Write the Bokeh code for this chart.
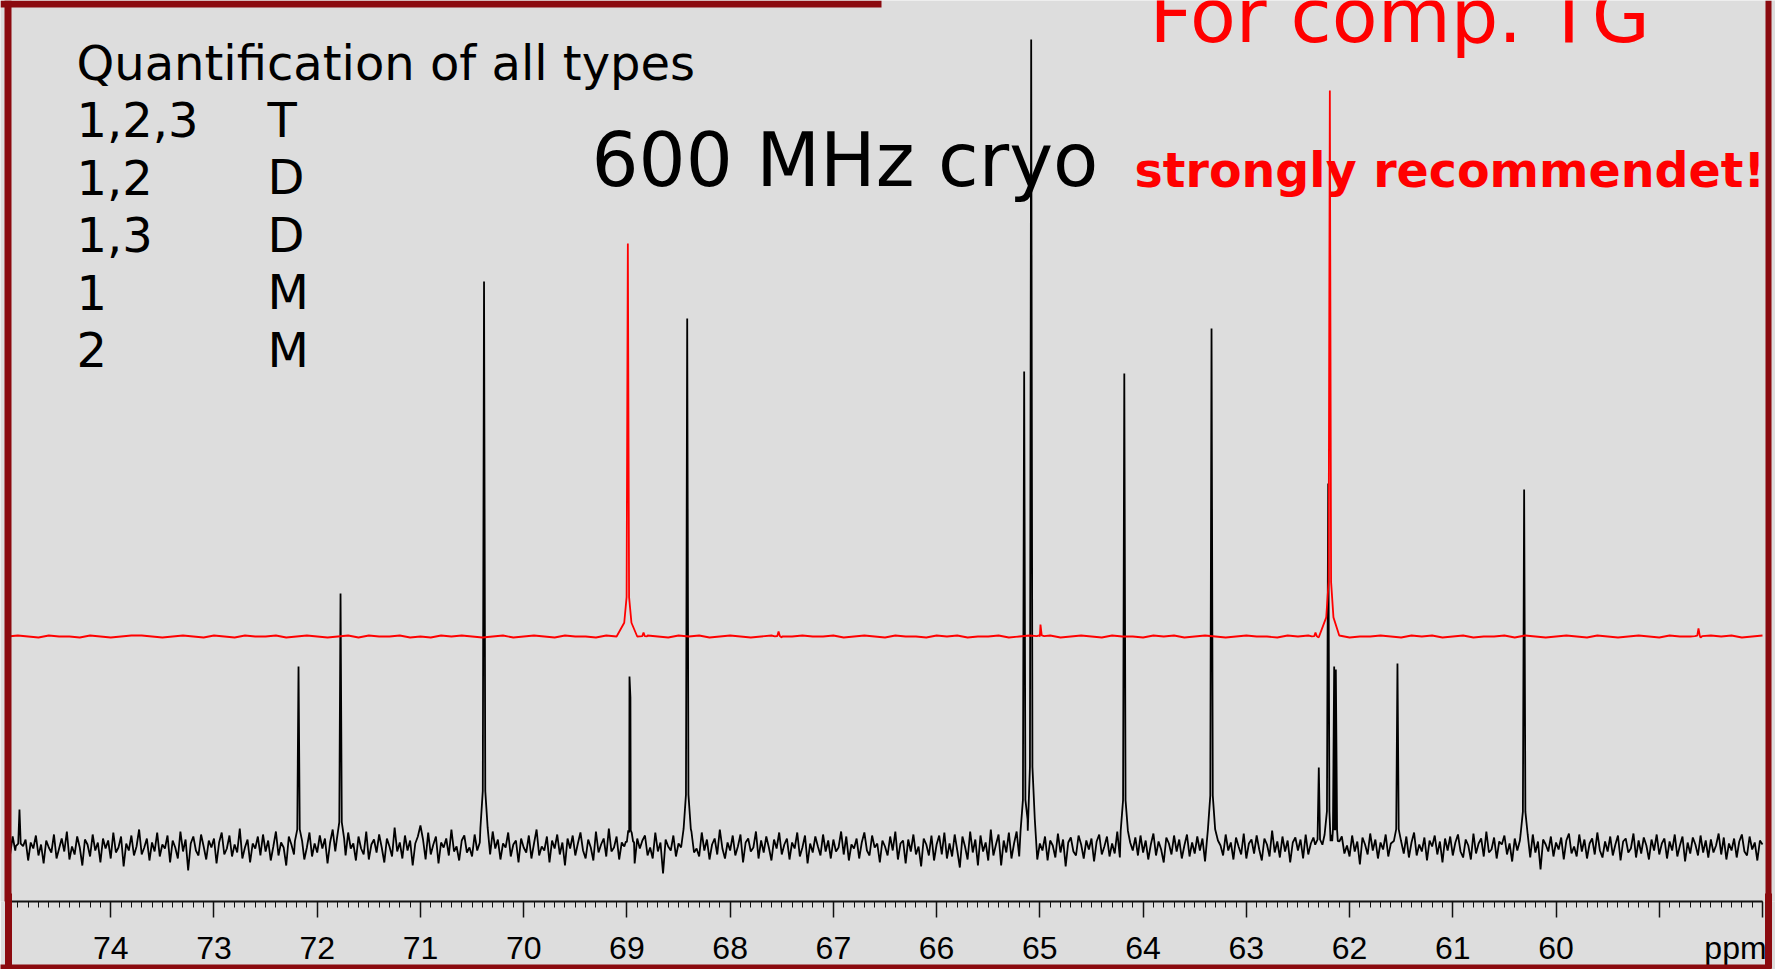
from bokeh.plotting import figure
from bokeh.models import Range1d, FixedTicker, LinearAxis, Label, BoxAnnotation
from bokeh.embed import file_html
from bokeh.resources import INLINE

# ---------------------------------------------------------------------------
# 13C NMR, glycerol carbon region (ppm).  Intensities in display units,
# baseline of the lower (black) spectrum = 0.
# ---------------------------------------------------------------------------
black_peak_ppm = [74.884, 72.181, 71.774, 70.384, 68.975, 68.966, 68.416, 65.152,
                  65.084, 64.182, 63.337, 62.298, 62.207, 62.149, 62.133, 61.536, 60.309]
black_peak_height = [38, 181, 254, 566, 171, 150, 529, 476,
                     808, 474, 519, 80, 364, 181, 178, 184, 358]

red_peak_ppm = [68.991, 68.839, 67.531, 64.994, 62.330, 62.191, 58.620]
red_peak_height = [393, 4, 5, 12, 4, 546, 8]
red_offset = 211

# baseline noise of the lower spectrum, every 0.025 ppm from 75.0 down to 58.0
black_noise_start, black_noise_step = 75.0, 0.025
black_noise = [
    4, -7, 11, -3, 15, -9, 1, 8, -13, 5, -1, 12, -8, 3, -16, 7, 0, -5, 13, -11,
    -1, 9, -4, 16, -12, 1, -7, 11, 0, -18, 8, 3, -9, 13, -3, 5, -15, 9, -1, 7,
    -11, 15, -5, 0, 11, -19, 4, -3, 12, -8, 1, 18, -7, 0, 9, -13, 5, -4, 15, -9,
    3, -1, 12, -15, 7, 0, -11, 16, -4, 8, -23, 4, 11, -3, -8, 13, 1, -12, 7, 0,
    9, -16, 5, 15, -7, -1, 12, -9, 3, -5, 19, -11, 0, 8, -15, 4, -1, 11, -8, 13,
    -4, 7, -13, 1, 16, -8, 5, 0, -18, 11, 3, -7, 13, -3, 8, -12, 0, 15, -9, 4,
    -5, 12, -1, 9, -16, 5, 18, -4, -11, 7, 0, -8, 15, -1, 4, -13, 11, -1, -7, 16,
    -12, 3, 8, -5, 13, 0, -15, 9, 1, -9, 20, -4, 5, -11, 12, -3, 7, -18, 4, 11,
    22, 8, -12, 15, -7, 3, 11, -16, 5, 0, 9, -8, 18, -4, 1, -13, 7, 12, -5, 0,
    -9, 13, -3, 5, -24, 11, 1, -7, 16, -1, 8, -12, 4, 0, 15, -9, 3, 7, -15, 9,
    0, -5, 12, -11, 4, 18, -8, 1, -3, 11, -15, 7, -1, 13, -7, 5, -18, 9, -1, 12,
    -8, 4, 15, -3, -11, 8, 0, -13, 16, -5, 3, 9, -9, 19, -4, 0, 11, -12, 5, 1,
    13, -7, 3, -16, 9, -1, 7, 12, -8, 0, -11, 15, -4, 5, -26, 8, 1, -3, 12, -9,
    4, 0, 11, -13, 7, 16, -5, -1, -9, 15, -3, 8, -12, 3, 9, -7, 18, -1, -11, 5,
    -3, 12, -8, 1, 13, -15, 5, 9, -4, 0, 16, -11, 7, -5, 11, 0, -13, 8, -1, 15,
    -7, 3, 9, -12, 5, -1, 15, -9, 0, 12, -16, 4, -5, 11, 1, -8, 13, -4, 7, -11,
    8, -4, 0, 16, -7, 11, -13, 3, -1, 9, -11, 5, 15, -3, -8, 12, 0, 4, -15, 7,
    1, -8, 11, -3, 16, -12, 4, 7, -16, 8, -4, 13, -7, 1, -19, 9, 3, -8, 12, -13,
    3, 12, -7, 15, -11, 4, -9, 13, -3, -20, 11, 1, -12, 16, -5, 8, -18, 12, -4, 5,
    -13, 18, -8, 3, 13, -18, 7, -5, 15, -11, 4, 16, -9, -3, 12, -16, 8, -7, 18, -12,
    4, -3, 11, -13, 7, 2, -10, 14, -5, 8, -19, 5, 10, -4, -8, 12, 3, -11, 7, -2,
    9, -14, 6, 13, -7, 1, 11, -9, 4, -6, 16, -10, 2, 8, -13, 5, -3, 10, -8, 12,
    -5, 7, -12, 3, 14, -8, 6, -2, -15, 10, 4, -7, 12, -4, 8, -11, 2, 13, -9, 5,
    -6, 11, -3, 9, -14, 6, 15, -5, -10, 7, 2, -8, 13, -3, 5, -12, 10, 1, -7, 14,
    -11, 4, 8, -6, 12, -2, -13, 9, 3, -9, 17, -5, 6, -10, 11, -4, 7, -15, 5, 10,
    -3, 8, -11, 13, -7, 4, 10, -14, 6, -2, 9, -8, 15, -5, 3, -12, 7, 11, -6, 2,
    -9, 12, -4, 6, -17, 10, 3, -7, 14, -3, 8, -11, 5, -2, 13, -9, 4, 7, -13, 9,
    2, -6, 11, -10, 5, 15, -8, 3, -4, 10, -13, 7, 1, 12, -7, 6, -15, 9, -3, 11,
    -8, 5, 13, -4, -10, 8, 2, -12, 14, -6, 4, 9, -9, 16, -5, -2, 10, -11, 6, 3,
    12, -7, 4, -14, 9, -3, 7, 11, -8, 2, -10, 13, -5, 6, -22, 8, 3, -4, 11, -9,
    5, -2, 10, -12, 7, 14, -6, 1, -9, 13, -4, 8, -11, 4, 9, -7, 15, -3, -10, 6,
    -4, 11, -8, 3, 12, -13, 6, 9, -5, -1, 14, -10, 7, -6, 10, 2, -12, 8, -3, 13,
    -7, 4, 9, -11, 6, -3, 13, -9, 2, 11, -14, 5, -6, 10, 3, -8, 12, -5, 7, -10,
    8, -5, 2, 14, -7, 10, -12, 4, -3, 9, -10, 6, 13, -4, -8, 11, -2, 5, -13, 7,
    3,
]

# baseline noise of the upper (red) spectrum, every 0.1 ppm from 75.0 down to 58.0
red_noise_start, red_noise_step = 75.0, 0.1
red_noise = [
    0, 1, 0, -1, 1, 0, 0, -1, 1, 0, -1, 0, 1, 1, 0, -1, 0, 1, 0, -1,
    1, 0, -1, 1, 0, 0, 1, -1, 0, 1, 0, -1, 0, 1, -1, 1, 0, 0, 1, -1,
    0, -1, 1, 0, 1, 0, -1, 0, 1, -1, 0, 1, 0, -1, 1, 0, 0, -1, 1, 0,
    -1, 0, 1, 0, -1, 1, 0, 1, -1, 0, 1, 0, -1, 0, 1, -1, 0, 1, 0, 0,
    1, -1, 0, 1, 0, -1, 1, 0, 0, -1, 1, 0, 1, -1, 0, 0, 1, -1, 0, 1,
    0, 1, -1, 0, 1, 0, -1, 1, 0, 0, -1, 1, 0, 1, -1, 0, 1, 0, -1, 0,
    1, 0, 0, -1, 1, 0, 1, -1, 0, 1, -1, 0, 0, 1, 0, -1, 1, 0, 1, -1,
    0, 1, -1, 0, 0, 1, -1, 1, 0, -1, 0, 1, 0, -1, 1, 0, -1, 0, 1, 0,
    -1, 1, 0, 0, -1, 1, 0, 1, -1, 0, 1,
]

NBSP = "\u00a0"
tick_values = list(range(58, 76))
tick_labels = {t: str(t) for t in range(60, 75)}
tick_labels[58] = "ppm" + NBSP            # unit label, ending at the axis end
tick_labels[59] = NBSP
tick_labels[75] = NBSP

legend_rows = [("1,2,3", "T"), ("1,2", "D"), ("1,3", "D"), ("1", "M"), ("2", "M")]

# ---------------------------------------------------------------------------
BG = "#DDDDDD"
FRAME_RED = "#8B0A0F"
X_LEFT, X_RIGHT = 75.0678, 57.8741
PX_PER_PPM = 1775 / (X_LEFT - X_RIGHT)


def sx(px):
    """horizontal canvas pixel -> ppm"""
    return X_LEFT - px / PX_PER_PPM


def sy(py):
    """vertical canvas pixel -> intensity"""
    return 847 - py


def build_trace(start, step, noise, peak_ppm, peak_h, offset):
    pts = []
    for i, v in enumerate(noise):
        x = round(start - step * i, 4)
        if any(abs(x - p) < 0.04 and h > 20 for p, h in zip(peak_ppm, peak_h)):
            continue
        pts.append((x, v))
    for p, h in zip(peak_ppm, peak_h):
        pts.append((p, h))
        for dx, frac in ((0.012, 0.10), (0.035, 0.035)):
            pts.append((p + dx, h * frac))
            pts.append((p - dx, h * frac))
    pts.sort(key=lambda t: -t[0])
    return [t[0] for t in pts], [t[1] + offset for t in pts]


def text(px, baseline_py, s, size, color="black", bold=False):
    # Label places alphabetic baselines ~0.37 em low, compensate
    p.add_layout(Label(x=sx(px), y=sy(baseline_py - 0.37 * size), text=s,
                       text_baseline="alphabetic", text_font="DejaVu Sans",
                       text_font_style="bold" if bold else "normal",
                       text_font_size=f"{size}px", text_color=color))


p = figure(width=1775, height=969,
           x_range=Range1d(X_LEFT, X_RIGHT), y_range=Range1d(-54, 847),
           x_axis_type=None, y_axis_type=None,
           output_backend="svg", toolbar_location=None,
           min_border_left=0, min_border_right=0, min_border_top=0, min_border_bottom=68,
           background_fill_color=BG, border_fill_color=BG, outline_line_color=None)

bx, by = build_trace(black_noise_start, black_noise_step, black_noise,
                     black_peak_ppm, black_peak_height, 0)
rx, ry = build_trace(red_noise_start, red_noise_step, red_noise,
                     red_peak_ppm, red_peak_height, red_offset)

p.line(bx, by, line_color="black", line_width=1.8)
p.line(rx, ry, line_color="#FF0000", line_width=1.8)

axis = LinearAxis(
    ticker=FixedTicker(ticks=tick_values,
                       minor_ticks=[round(58 + 0.1 * i, 1) for i in range(171)]),
    major_label_overrides={t: tick_labels[t] for t in tick_values},
    bounds=(58, 75),
    axis_line_width=2, axis_line_color="#111111",
    major_tick_out=16, major_tick_in=0, major_tick_line_width=1.5,
    major_tick_line_color="#111111",
    minor_tick_out=6, minor_tick_in=0, minor_tick_line_width=1,
    minor_tick_line_color="#111111",
    major_label_text_font="Liberation Sans", major_label_text_font_size="32px",
    major_label_text_color="black", major_label_standoff=12,
)
p.add_layout(axis, "below")

# slide frame below the spectrum area: bottom rule plus the lower ends of the side rules
frame_axis = LinearAxis(
    ticker=FixedTicker(ticks=[sx(7.5), sx(1768)]),
    bounds=(sx(1771), sx(0)),
    axis_line_color=FRAME_RED, axis_line_width=8,
    major_tick_in=75, major_tick_out=0, major_tick_line_color=FRAME_RED,
    major_tick_line_width=7, minor_tick_in=0, minor_tick_out=0,
    major_label_overrides={sx(7.5): "", sx(1768): ""},
    major_label_text_color=None, major_label_text_font_size="1px",
    major_label_standoff=0,
)
p.add_layout(frame_axis, "below")

# text block, upper left
text(76, 80, "Quantification of all types", 48)
for i, (pos, kind) in enumerate(legend_rows):
    base = 137 + 57.5 * i
    text(76, base, pos, 48)
    text(267, base, kind, 48)

text(591, 187, "600 MHz cryo", 74)
text(1149, 43, "For comp. TG", 75, color="#FF0000")
text(1134, 188, "strongly recommendet!", 47.5, color="#FF0000", bold=True)

# slide frame inside the spectrum area
for l, r, t, b in [(0, 881, 0, 7), (4, 11, 0, 969), (1765, 1771, 0, 969)]:
    p.add_layout(BoxAnnotation(left=sx(l), right=sx(r), top=sy(t), bottom=sy(b),
                               fill_color=FRAME_RED, fill_alpha=1.0,
                               line_color=None, level="overlay"))

open("out.html", "w").write(file_html(p, INLINE))
